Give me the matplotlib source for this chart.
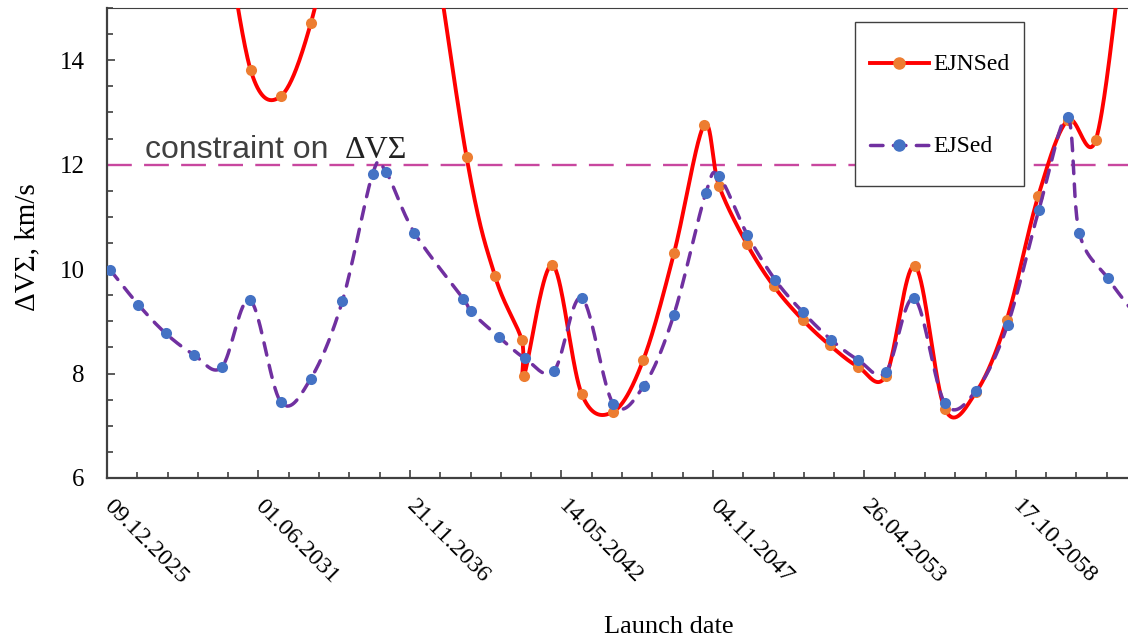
import matplotlib
matplotlib.use("Agg")
import matplotlib.pyplot as plt
from matplotlib.lines import Line2D
from matplotlib.ticker import MultipleLocator
import numpy as np

# launch day counted from 09.12.2025, delta-V in km/s
ejsed_days = [40, 413, 775, 1148, 1514, 1888, 2293, 2689, 3106, 3508, 3683, 4057,
              4704, 4801, 5175, 5518, 5901, 6267, 6684, 7089, 7485, 7904, 8079,
              8453, 8819, 9184, 9558, 9918, 10284, 10657, 11063, 11472, 11890,
              12304, 12682, 12836, 13211, 13590]
ejsed_dv = [9.99, 9.32, 8.77, 8.36, 8.12, 9.41, 7.46, 7.90, 9.38, 11.83, 11.86, 10.70,
            9.43, 9.19, 8.70, 8.29, 8.05, 9.45, 7.42, 7.77, 9.13, 11.45, 11.78,
            10.66, 9.80, 9.18, 8.65, 8.26, 8.03, 9.44, 7.43, 7.67, 8.93,
            11.14, 12.91, 10.70, 9.83, 9.10]

ejnsed_days = [1514, 1897, 2293, 2693, 3106, 3508, 4057, 4748, 5122, 5474, 5505,
               5879, 6267, 6684, 7080, 7485, 7881, 8079, 8445, 8805, 9184, 9545,
               9918, 10284, 10667, 11063, 11472, 11877, 12295, 12682, 13056, 13400]
ejnsed_dv = [17.0, 13.81, 13.31, 14.72, 17.5, 21.0, 18.5, 12.14, 9.87, 8.65, 7.96,
             10.08, 7.61, 7.27, 8.26, 10.30, 12.75, 11.60, 10.49, 9.67, 9.03, 8.54,
             8.13, 7.96, 10.06, 7.32, 7.64, 9.02, 11.40, 12.85, 12.48, 16.0]

constraint_dv = 12
tick_labels = ["09.12.2025", "01.06.2031", "21.11.2036", "14.05.2042",
               "04.11.2047", "26.04.2053", "17.10.2058"]
tick_step = 2000  # days


# smoothed line through the points (Excel-like bezier)
def smooth(x, y, steps=40):
    pts = np.column_stack([x, y]).astype(float)
    p = np.vstack([pts[0], pts, pts[-1]])
    t = np.linspace(0, 1, steps)[:, None]
    out = []
    for i in range(1, len(p) - 2):
        p0, p1, p2, p3 = p[i - 1], p[i], p[i + 1], p[i + 2]
        c1 = p1 + (p2 - p0) / 6
        c2 = p2 - (p3 - p1) / 6
        seg = (1 - t) ** 3 * p1 + 3 * (1 - t) ** 2 * t * c1 + 3 * (1 - t) * t ** 2 * c2 + t ** 3 * p2
        out.append(seg if i == 1 else seg[1:])
    return np.vstack(out)


serif = "Liberation Serif"
W, H = 1128, 641
fig = plt.figure(figsize=(W / 100, H / 100), dpi=100)
ax = fig.add_axes([107 / W, 1 - 478 / H, 1 - 107 / W, (478 - 8) / H])

red = "#FF0000"
orange = "#ED7D31"
purple = "#7030A0"
blue = "#4472C4"
pink = "#C8479F"
dash = (0, (3.6, 3.0))

ax.axhline(constraint_dv, color=pink, lw=1.7, linestyle=(0, (10.5, 5.2)), zorder=2)

c = smooth(ejnsed_days, ejnsed_dv)
ax.plot(c[:, 0], c[:, 1], color=red, lw=2.8, solid_capstyle="round",
        solid_joinstyle="round", zorder=3)
ax.plot(ejnsed_days, ejnsed_dv, "o", color=orange, ms=8, mew=0, zorder=4)

c = smooth(ejsed_days, ejsed_dv)
ax.plot(c[:, 0], c[:, 1], color=purple, lw=2.5, linestyle=dash,
        dash_capstyle="round", zorder=5)
ax.plot(ejsed_days, ejsed_dv, "o", color=blue, ms=8, mew=0, zorder=6)

ax.set_xlim(0, 13480)
ax.set_ylim(6, 15)
ax.set_xticks(np.arange(len(tick_labels)) * tick_step)
ax.set_xticklabels(tick_labels, rotation=-45, ha="left", va="center",
                   rotation_mode="anchor", fontsize=17.5, family=serif)
ax.xaxis.set_minor_locator(MultipleLocator(tick_step / 5))
ax.yaxis.set_major_locator(MultipleLocator(2))
ax.yaxis.set_minor_locator(MultipleLocator(0.5))
for lab in ax.get_yticklabels():
    lab.set_family(serif)
    lab.set_fontsize(18)

ax.tick_params(which="both", direction="in", color="#404040", width=1.2)
ax.tick_params(which="major", length=6)
ax.tick_params(which="minor", length=4.5)
ax.tick_params(axis="x", which="major", pad=18)
ax.tick_params(axis="y", which="major", pad=16)

for s in ["left", "bottom"]:
    ax.spines[s].set_color("#404040")
    ax.spines[s].set_linewidth(1.6)
ax.spines["top"].set_color("#404040")
ax.spines["top"].set_linewidth(0.8)
ax.spines["right"].set_visible(False)

# constraint label
ax.text(502, 12.12, "constraint on ", fontsize=23, family="Liberation Sans",
        color="#404040", va="baseline", ha="left", zorder=7)
ax.text((345 - 107) / 0.07575, 12.12, "ΔVΣ", fontsize=23, family=serif,
        color="#222222", va="baseline", ha="left", zorder=7)

fig.text(27 / W, 1 - 247 / H, "ΔVΣ, km/s", rotation=90, ha="center", va="center",
         fontsize=21, family=serif)
fig.text(669 / W, 1 - 627 / H, "Launch date", ha="center", va="center",
         fontsize=19, family=serif)

handles = [
    Line2D([], [], color=red, lw=2.8, marker="o", mfc=orange, mec=orange, ms=8),
    Line2D([], [], color=purple, lw=2.5, linestyle=dash, dash_capstyle="round",
           marker="o", mfc=blue, mec=blue, ms=8),
]
leg = ax.legend(handles, ["EJNSed", "EJSed"], loc="upper left",
                bbox_to_anchor=(855 / W, 1 - 22 / H), bbox_transform=fig.transFigure,
                borderaxespad=0, prop={"family": serif, "size": 17}, numpoints=1,
                handlelength=2.5, handletextpad=0.2, handleheight=3.06,
                labelspacing=1.25, borderpad=0.62, fancybox=False, framealpha=1,
                edgecolor="#404040")
leg.get_frame().set_linewidth(1.0)
leg.set_zorder(10)
# tall handle boxes lift the sample lines; put them back level with the text
for ln in leg.findobj(Line2D):
    ln.set_ydata(np.asarray(ln.get_ydata()) - 7)

fig.savefig("out.png", dpi=100)
